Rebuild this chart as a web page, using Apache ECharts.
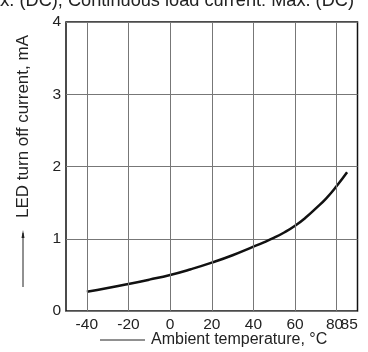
<!DOCTYPE html>
<html>
<head>
<meta charset="utf-8">
<script src="https://cdn.jsdelivr.net/npm/echarts@6/dist/echarts.min.js"></script>
<style>
html,body{margin:0;padding:0;background:#fff;}
#c{width:368px;height:352px;}
</style>
</head>
<body>
<div id="c"></div>
<script>
const titleText = 'Max. (DC), Continuous load current: Max. (DC)';
const xName = 'Ambient temperature, \u00B0C';
const yName = 'LED turn off current, mA';
const xTickLabels = [-40, -20, 0, 20, 40, 60, 80];
const xExtraLabels = [85];
const xGridValues = [-40, -20, 0, 20, 40, 60, 80];
const temps =   [-40,  -30,  -20,  -10,  0,    10,   20,   30,   40,   45,   50,   55,   60,   65,   70,   75,   80,   85];
const current = [0.267,0.318,0.374,0.434,0.498,0.578,0.669,0.772,0.89, 0.95, 1.015,1.09, 1.18, 1.29, 1.42, 1.56, 1.73, 1.92];

const chart = echarts.init(document.getElementById('c'), null, {renderer: 'canvas'});
const FONT = 'Liberation Sans, Arial, Helvetica, sans-serif';
const baseX = {
  type: 'value', min: -50, max: 90, position: 'bottom',
  axisLine: {show: false}, axisTick: {show: false}, splitLine: {show: false}
};
chart.setOption({
  animation: false,
  backgroundColor: '#fff',
  title: {
    text: titleText,
    right: 9, top: -13,
    textStyle: {fontFamily: FONT, fontSize: 18.2, fontWeight: 'normal', color: '#222'}
  },
  grid: {left: 66, right: 10.5, top: 22, bottom: 41, show: true, borderColor: '#111', borderWidth: 1.5, containLabel: false},
  xAxis: [
    Object.assign({}, baseX, {
      axisLabel: {
        customValues: xTickLabels, margin: 6,
        fontFamily: FONT, fontSize: 15.5, color: '#222',
        formatter: v => v === 80 ? '80 ' : String(v)
      }
    }),
    Object.assign({}, baseX, {
      axisLabel: {
        customValues: xExtraLabels, margin: 6,
        fontFamily: FONT, fontSize: 15.5, color: '#222',
        formatter: v => ' ' + v
      }
    })
  ],
  yAxis: {
    type: 'value', min: 0, max: 4, interval: 1,
    axisLine: {show: false}, axisTick: {show: false},
    splitLine: {show: true, lineStyle: {color: '#777', width: 1}},
    axisLabel: {margin: 5, fontFamily: FONT, fontSize: 15.5, color: '#222'}
  },
  graphic: [
    {type: 'text', left: 151, top: 332, style: {text: xName, font: '16px ' + FONT, fill: '#222'}},
    {type: 'line', shape: {x1: 100, y1: 340, x2: 145, y2: 340}, style: {stroke: '#222', lineWidth: 1}},
    {type: 'text', x: 15, y: 218, rotation: Math.PI / 2, style: {text: yName, font: '17px ' + FONT, fill: '#222', verticalAlign: 'top'}},
    {type: 'line', shape: {x1: 23, y1: 233, x2: 23, y2: 287}, style: {stroke: '#222', lineWidth: 1}},
    {type: 'polygon', shape: {points: [[23, 230], [21.5, 238], [24.5, 238]]}, style: {fill: '#222'}}
  ],
  series: [{
    type: 'line',
    data: temps.map((t, i) => [t, current[i]]),
    smooth: 0.5,
    showSymbol: false,
    lineStyle: {color: '#111', width: 2.5},
    markLine: {
      silent: true, symbol: 'none', label: {show: false},
      lineStyle: {color: '#777', width: 1, type: 'solid'},
      data: xGridValues.map(v => ({xAxis: v}))
    }
  }]
});
</script>
</body>
</html>
